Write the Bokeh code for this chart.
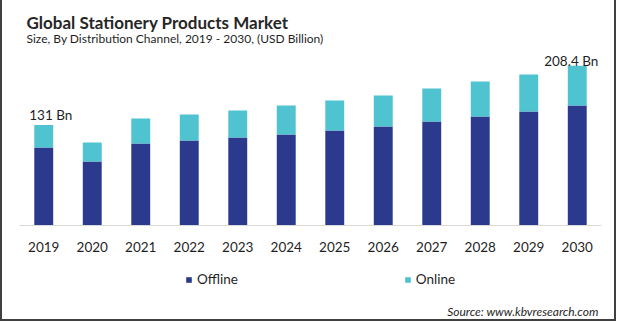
from bokeh.plotting import figure
from bokeh.models import ColumnDataSource, Range1d, Label, Legend, LegendItem, CategoricalAxis, FactorRange
from bokeh.core.properties import value
from bokeh.embed import file_html
from bokeh.resources import INLINE

years = [str(y) for y in range(2019, 2031)]
offline = [101.8, 83.5, 107.0, 111.0, 114.8, 118.8, 124.0, 129.2, 135.7, 142.2, 148.8, 156.6]
online = [29.2, 24.8, 32.6, 33.9, 35.3, 37.8, 39.1, 40.5, 43.1, 45.7, 48.3, 51.8]
series = ["Offline", "Online"]
colors = ["#2b3a8c", "#4fc3cf"]
title_text = "Global Stationery Products Market"
subtitle_text = "Size, By Distribution Channel, 2019 - 2030, (USD Billion)"
source_text = "Source: www.kbvresearch.com"

FONT = "Lato"
TXT = "#1f1f1f"

totals = [a + b for a, b in zip(offline, online)]
src = ColumnDataSource(dict(year=years, Offline=offline, Online=online, total=totals))

W, H = 616, 321
xr = FactorRange(factors=years, range_padding=0.3505, range_padding_units="absolute")
p = figure(width=W, height=H, x_range=xr, y_range=Range1d(-125.28, 293.63),
           min_border=0, min_border_left=0, min_border_right=0, min_border_top=0, min_border_bottom=0,
           toolbar_location=None, output_backend="svg", x_axis_location=None, y_axis_location=None,
           background_fill_color="white", border_fill_color="white")
p.outline_line_color = None
p.grid.visible = False

rs = p.vbar_stack(series, x="year", width=0.39, color=colors, source=src, line_width=0)

ax = CategoricalAxis(fixed_location=0, bounds=(0, len(years)))
ax.axis_line_color = "#d9d9d9"
ax.axis_line_width = 1
ax.major_tick_line_color = None
ax.minor_tick_line_color = None
ax.major_label_text_font = FONT
ax.major_label_text_font_size = "13.5px"
ax.major_label_text_color = TXT
ax.major_label_standoff = 10
p.add_layout(ax, "below")

# end labels
first = ColumnDataSource(dict(x=[years[0]], y=[totals[0]], t=["%g Bn" % totals[0]]))
last = ColumnDataSource(dict(x=[years[-1]], y=[totals[-1]], t=["%g Bn" % totals[-1]]))
for s, dx, dy in ((first, 7, -10), (last, -6, -5)):
    p.text(x="x", y="y", text="t", source=s, x_offset=dx, y_offset=dy,
           text_align="center", text_baseline="alphabetic",
           text_font=value(FONT), text_font_size="13.5px", text_color=TXT)

p.add_layout(Label(x=24, y=299, x_units="screen", y_units="screen", text=title_text,
                   text_font=FONT, text_font_size="17px", text_font_style="bold",
                   text_color="#262626", text_baseline="alphabetic"))
p.add_layout(Label(x=24, y=283, x_units="screen", y_units="screen", text=subtitle_text,
                   text_font=FONT, text_font_size="12px",
                   text_color=TXT, text_baseline="alphabetic"))
p.add_layout(Label(x=596, y=10, x_units="screen", y_units="screen", text=source_text,
                   text_font=FONT, text_font_size="12px", text_font_style="italic",
                   text_color=TXT, text_align="right", text_baseline="alphabetic"))

legend = Legend(items=[LegendItem(label=series[0], renderers=[rs[0]]),
                       LegendItem(label=series[1], renderers=[rs[1]])],
                orientation="horizontal", location=(183, 34), spacing=166,
                glyph_width=7, glyph_height=7, label_standoff=5,
                label_text_font=FONT, label_text_font_size="13.5px", label_text_color=TXT,
                border_line_color=None, background_fill_alpha=0, padding=0, margin=0)
p.add_layout(legend, "center")

p.styles = {"border-left": "2px solid #404040", "border-right": "2px solid #404040",
            "border-bottom": "2px solid #404040"}

open("out.html", "w").write(file_html(p, INLINE))
